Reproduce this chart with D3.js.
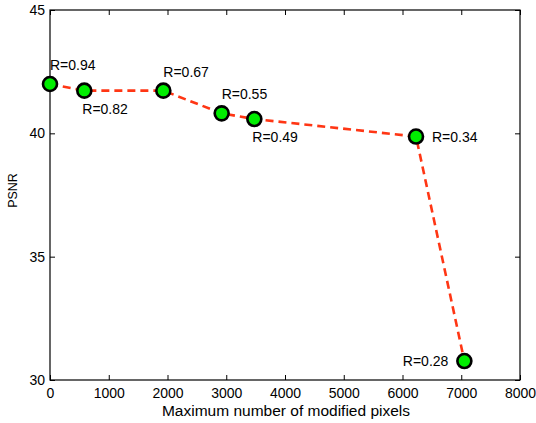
<!DOCTYPE html>
<html>
<head>
<meta charset="utf-8">
<script src="https://cdn.jsdelivr.net/npm/d3@7"></script>
<style>
  body { margin: 0; background: #fff; }
  text { font-family: "Liberation Sans", Arial, Helvetica, sans-serif; }
</style>
</head>
<body>
<script>
// data
let pixels = [0, 584, 1929, 2922, 3478, 6230, 7053];
let psnr = [42.0, 41.73, 41.73, 40.81, 40.58, 39.87, 30.77];
let rLabels = ['R=0.94', 'R=0.82', 'R=0.67', 'R=0.55', 'R=0.49', 'R=0.34', 'R=0.28'];
let xTicks = [0, 1000, 2000, 3000, 4000, 5000, 6000, 7000, 8000];
let yTicks = [30, 35, 40, 45];

// where each R label sits relative to its marker
let labelSide = ['above', 'below', 'above', 'above', 'below', 'right', 'left'];

let width = 536;
let height = 423;
let margin = { top: 10, right: 16, bottom: 43, left: 50 };

let svg = d3.select('body').append('svg')
   .attr('width', width)
   .attr('height', height);

let x = d3.scaleLinear().domain([0, 8000]).range([margin.left, width - margin.right]);
let y = d3.scaleLinear().domain([30, 45]).range([height - margin.bottom, margin.top]);

let axisFont = (g) => {
   g.selectAll('text').style('font-size', '14px').attr('fill', '#000');
   g.selectAll('line').attr('stroke', '#000');
   g.select('.domain').remove();
};

// bottom axis with inward ticks
svg.append('g')
   .attr('transform', `translate(0, ${y(30)})`)
   .call(d3.axisBottom(x).tickValues(xTicks).tickSize(-5).tickPadding(8).tickFormat(d3.format('d')))
   .call(axisFont);

// top ticks
svg.append('g')
   .attr('transform', `translate(0, ${y(45)})`)
   .call(d3.axisTop(x).tickValues(xTicks).tickSize(-5).tickFormat(''))
   .call(axisFont);

// left axis
svg.append('g')
   .attr('transform', `translate(${x(0)}, 0)`)
   .call(d3.axisLeft(y).tickValues(yTicks).tickSize(-5).tickPadding(5))
   .call(axisFont);

// right ticks
svg.append('g')
   .attr('transform', `translate(${x(8000)}, 0)`)
   .call(d3.axisRight(y).tickValues(yTicks).tickSize(-5).tickFormat(''))
   .call(axisFont);

// box
svg.append('rect')
   .attr('x', x(0))
   .attr('y', y(45))
   .attr('width', x(8000) - x(0))
   .attr('height', y(30) - y(45))
   .attr('fill', 'none')
   .attr('stroke', '#000')
   .attr('stroke-width', 1.2);

// axis labels
svg.append('text')
   .attr('x', (x(0) + x(8000)) / 2 + 1)
   .attr('y', 416)
   .attr('text-anchor', 'middle')
   .style('font-size', '15.5px')
   .text('Maximum number of modified pixels');

svg.append('text')
   .attr('transform', `translate(17, 190.5) rotate(-90)`)
   .attr('text-anchor', 'middle')
   .style('font-size', '12.5px')
   .text('PSNR');

let points = pixels.map((p, i) => ({ px: p, v: psnr[i], label: rLabels[i], side: labelSide[i] }));

// dashed line
let line = d3.line().x((d) => x(d.px)).y((d) => y(d.v));
svg.append('path')
   .datum(points)
   .attr('d', line)
   .attr('fill', 'none')
   .attr('stroke', '#ff3614')
   .attr('stroke-width', 2.6)
   .attr('stroke-dasharray', '8,5');

// markers
svg.selectAll('circle.pt')
   .data(points)
   .enter()
   .append('circle')
   .attr('class', 'pt')
   .attr('cx', (d) => x(d.px))
   .attr('cy', (d) => y(d.v))
   .attr('r', 7)
   .attr('fill', '#00ee00')
   .attr('stroke', '#000')
   .attr('stroke-width', 2.6);

// R labels
let offsets = {
   above: { dx: 0, dy: -14, anchor: 'start' },
   below: { dx: -2, dy: 23, anchor: 'start' },
   right: { dx: 16, dy: 5, anchor: 'start' },
   left: { dx: -16, dy: 5, anchor: 'end' }
};

svg.selectAll('text.rlab')
   .data(points)
   .enter()
   .append('text')
   .attr('class', 'rlab')
   .attr('x', (d) => x(d.px) + offsets[d.side].dx)
   .attr('y', (d) => y(d.v) + offsets[d.side].dy)
   .attr('text-anchor', (d) => offsets[d.side].anchor)
   .style('font-size', '14px')
   .text((d) => d.label);
</script>
</body>
</html>
